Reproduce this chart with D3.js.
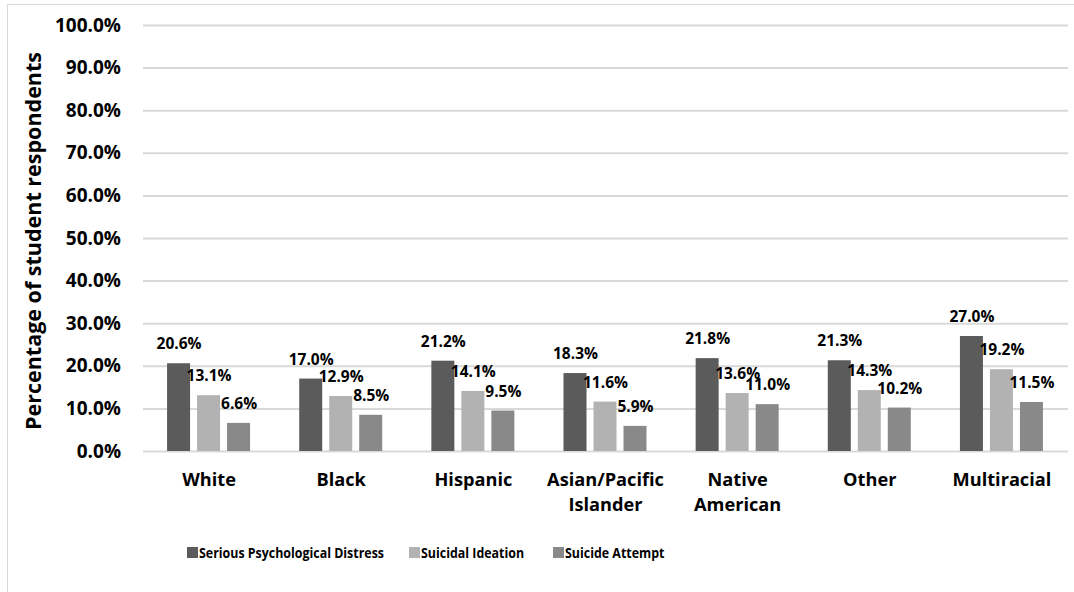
<!DOCTYPE html>
<html>
<head>
<meta charset="utf-8">
<script src="https://cdn.jsdelivr.net/npm/d3@7"></script>
<style>
  body { margin: 0; background: #fff; }
  svg text { font-family: "Open Sans", "Noto Sans", sans-serif; font-weight: bold; fill: #000; }
</style>
</head>
<body>
<div id="chart"></div>
<script>
// groups along the x axis (multi-line labels split on "\n")
const categories = ["White", "Black", "Hispanic", "Asian/Pacific\nIslander", "Native\nAmerican", "Other", "Multiracial"];
const seriesNames = ["Serious Psychological Distress", "Suicidal Ideation", "Suicide Attempt"];
const distress = [20.6, 17.0, 21.2, 18.3, 21.8, 21.3, 27.0];
const ideation = [13.1, 12.9, 14.1, 11.6, 13.6, 14.3, 19.2];
const attempt = [6.6, 8.5, 9.5, 5.9, 11.0, 10.2, 11.5];
const yTicks = [0, 10, 20, 30, 40, 50, 60, 70, 80, 90, 100];
const colors = ["#5b5b5b", "#b2b2b2", "#898989"];

const width = 1074, height = 592;
const plot = { left: 143, right: 1068, top: 25, bottom: 451 };

const svg = d3.select("#chart").append("svg")
  .attr("width", width)
  .attr("height", height);

// outer chart border
svg.append("rect")
  .attr("x", 7.5).attr("y", 4.5)
  .attr("width", width + 10).attr("height", height + 10)
  .attr("fill", "none")
  .attr("stroke", "#d9d9d9");

const x = d3.scaleBand()
  .domain(categories)
  .range([plot.left, plot.right]);

const y = d3.scaleLinear()
  .domain([0, 100])
  .range([plot.bottom, plot.top]);

// gridlines + tick labels
const yAxis = svg.append("g")
  .attr("transform", `translate(${plot.left},0)`)
  .call(d3.axisLeft(y).tickValues(yTicks)
    .tickSize(-(plot.right - plot.left))
    .tickPadding(22)
    .tickFormat(d => d.toFixed(1) + "%"));
yAxis.select(".domain").remove();
yAxis.selectAll(".tick line").attr("stroke", "#d9d9d9").attr("stroke-width", 2);
yAxis.selectAll(".tick text")
  .attr("font-size", 19)
  .attr("font-family", "Open Sans")
  .attr("font-weight", "bold")
  .attr("fill", "#000");

// y axis title
svg.append("text")
  .attr("transform", `translate(41,241) rotate(-90)`)
  .attr("text-anchor", "middle")
  .attr("font-size", 21.5)
  .text("Percentage of student respondents");

// bars
const series = [distress, ideation, attempt];
const barW = 23, step = 30;
const groups = svg.append("g");
series.forEach((vals, si) => {
  const xOff = (si - 1) * step;
  groups.selectAll(".bar" + si)
    .data(vals)
    .join("rect")
    .attr("class", "bar" + si)
    .attr("x", (d, i) => x(categories[i]) + x.bandwidth() / 2 + xOff - barW / 2 - 0.5)
    .attr("y", d => y(d))
    .attr("width", barW)
    .attr("height", d => y(0) - y(d))
    .attr("fill", colors[si]);
});

// value labels, drawn on top of all bars
series.forEach((vals, si) => {
  const xOff = (si - 1) * step;
  groups.selectAll(".lab" + si)
    .data(vals)
    .join("text")
    .attr("class", "lab" + si)
    .attr("x", (d, i) => x(categories[i]) + x.bandwidth() / 2 + xOff)
    .attr("y", d => y(d) - 14)
    .attr("text-anchor", "middle")
    .attr("font-size", 15.5)
    .text(d => d.toFixed(1) + "%");
});

// x labels
categories.forEach(c => {
  const t = svg.append("text")
    .attr("x", x(c) + x.bandwidth() / 2)
    .attr("y", 486)
    .attr("text-anchor", "middle")
    .attr("font-size", 18.2);
  c.split("\n").forEach((line, k) => {
    t.append("tspan")
      .attr("x", x(c) + x.bandwidth() / 2)
      .attr("dy", k === 0 ? 0 : 25)
      .text(line);
  });
});

// legend (narrowed a bit to mimic the condensed original font)
const legendX = [187, 409, 553];
seriesNames.forEach((name, i) => {
  const g = svg.append("g").attr("transform", `translate(${legendX[i]},552)`);
  g.append("rect")
    .attr("x", 0).attr("y", -5)
    .attr("width", 11).attr("height", 11)
    .attr("fill", colors[i]);
  const t = g.append("text")
    .attr("x", 12).attr("y", 6)
    .attr("font-size", 14)
    .text(name);
  const w = t.node().getComputedTextLength();
  t.attr("textLength", w * 0.886).attr("lengthAdjust", "spacingAndGlyphs");
});
</script>
</body>
</html>
